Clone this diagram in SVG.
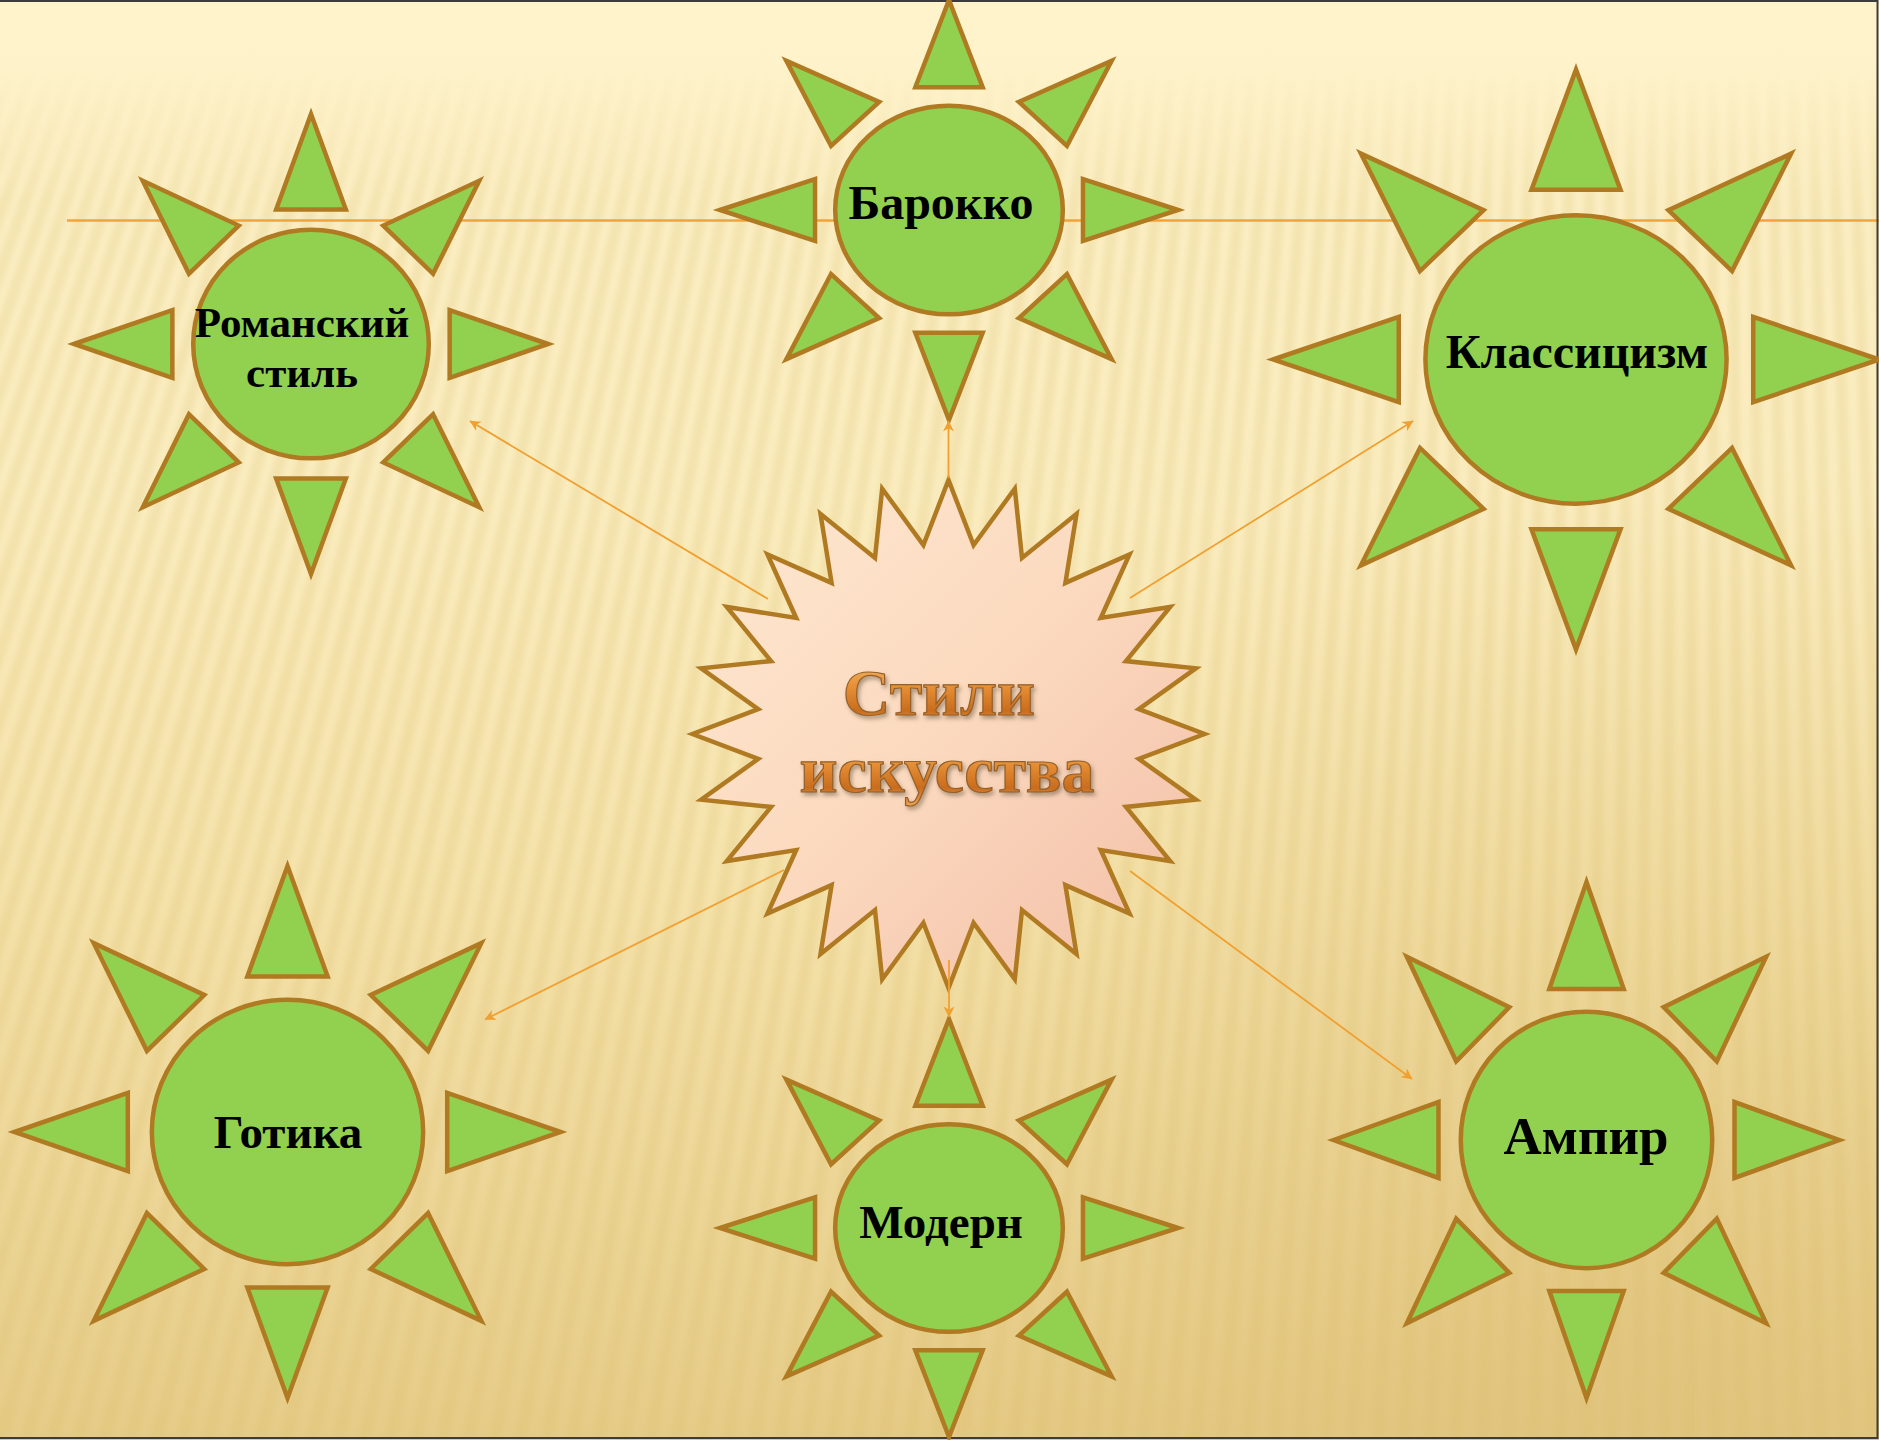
<svg xmlns="http://www.w3.org/2000/svg" xmlns:xlink="http://www.w3.org/1999/xlink" width="1879" height="1440" viewBox="0 0 1879 1440">
<style>
.ray{fill:#92D050;stroke:#B07A22;stroke-width:4.5;stroke-linejoin:miter;stroke-miterlimit:10;vector-effect:non-scaling-stroke}
.lbl{font-family:"Liberation Serif","Times New Roman",serif;font-weight:bold;fill:#000;text-anchor:middle}
.conn{stroke:#F0A030;stroke-width:1.8;fill:none;marker-end:url(#arr)}
.ttl{font-family:"Liberation Serif","Times New Roman",serif;font-weight:bold;font-size:66px;text-anchor:middle;fill:url(#gold);stroke:#94602A;stroke-width:1.2;filter:url(#shadow)}
</style>
<defs>
<linearGradient id="bg" x1="0" y1="0" x2="0" y2="1">
<stop offset="0" stop-color="#FEF3CB"/>
<stop offset="0.35" stop-color="#FCEFC3"/>
<stop offset="0.62" stop-color="#F6E4AD"/>
<stop offset="1" stop-color="#E6CC88"/>
</linearGradient>
<radialGradient id="dark" cx="1650" cy="1350" r="900" gradientUnits="userSpaceOnUse">
<stop offset="0" stop-color="#D8B86C" stop-opacity="0.4"/>
<stop offset="1" stop-color="#D8B86C" stop-opacity="0"/>
</radialGradient>
<linearGradient id="fadeG" x1="0" y1="0" x2="0" y2="1440" gradientUnits="userSpaceOnUse">
<stop offset="0.045" stop-color="#fff" stop-opacity="0"/>
<stop offset="0.14" stop-color="#fff" stop-opacity="1"/>
<stop offset="1" stop-color="#fff" stop-opacity="1"/>
</linearGradient>
<mask id="fade"><rect width="1879" height="1440" fill="url(#fadeG)"/></mask>
<filter id="soft" x="-5%" y="-5%" width="110%" height="110%"><feGaussianBlur stdDeviation="4"/></filter>
<linearGradient id="peach" x1="0" y1="0" x2="1" y2="1">
<stop offset="0" stop-color="#FEE8D2"/>
<stop offset="0.5" stop-color="#FBD9BE"/>
<stop offset="1" stop-color="#F2BCA6"/>
</linearGradient>
<linearGradient id="gold" x1="0" y1="0" x2="0" y2="1">
<stop offset="0" stop-color="#F8BD6E"/>
<stop offset="0.45" stop-color="#E48C33"/>
<stop offset="0.75" stop-color="#C96C1E"/>
<stop offset="1" stop-color="#EBA255"/>
</linearGradient>
<filter id="shadow" x="-10%" y="-20%" width="120%" height="150%">
<feDropShadow dx="2" dy="3" stdDeviation="2" flood-color="#6B5A40" flood-opacity="0.55"/>
</filter>
<marker id="arr" viewBox="0 0 10 10" refX="9.5" refY="5" markerWidth="13" markerHeight="11" markerUnits="userSpaceOnUse" orient="auto">
<path d="M0,0 L10,5 L0,10 L3,5 z" fill="#F0A030"/>
</marker>
<g id="sun">
<polygon class="ray" points="0,-1 0.147,-0.585 -0.147,-0.585"/>
<polygon class="ray" points="0,1 0.147,0.585 -0.147,0.585"/>
<polygon class="ray" points="-1,0 -0.585,-0.147 -0.585,0.147"/>
<polygon class="ray" points="1,0 0.585,-0.147 0.585,0.147"/>
<polygon class="ray" points="-0.71,-0.71 -0.305,-0.515 -0.515,-0.305"/>
<polygon class="ray" points="0.71,-0.71 0.305,-0.515 0.515,-0.305"/>
<polygon class="ray" points="-0.71,0.71 -0.305,0.515 -0.515,0.305"/>
<polygon class="ray" points="0.71,0.71 0.305,0.515 0.515,0.305"/>
<ellipse class="ray" cx="0" cy="0" rx="0.497" ry="0.497"/>
</g>
</defs>

<g id="background">
<rect width="1879" height="1440" fill="url(#bg)"/>
<rect width="1879" height="1440" fill="url(#dark)"/>
<g mask="url(#fade)">
<path filter="url(#soft)" stroke="#D9BA6C" stroke-opacity="0.32" stroke-width="10" fill="none" d="M-520 1440L-4.3 60M-494 1440L15.7 60M-468 1440L35.6 60M-442 1440L55.6 60M-416 1440L75.5 60M-390 1440L95.5 60M-364 1440L115.5 60M-338 1440L135.4 60M-312 1440L155.4 60M-286 1440L175.3 60M-260 1440L195.3 60M-234 1440L215.3 60M-208 1440L235.2 60M-182 1440L255.2 60M-156 1440L275.1 60M-130 1440L295.1 60M-104 1440L315.1 60M-78 1440L335 60M-52 1440L355 60M-26 1440L374.9 60M0 1440L394.9 60M26 1440L414.9 60M52 1440L434.8 60M78 1440L454.8 60M104 1440L474.7 60M130 1440L494.7 60M156 1440L514.7 60M182 1440L534.6 60M208 1440L554.6 60M234 1440L574.5 60M260 1440L594.5 60M286 1440L614.5 60M312 1440L634.4 60M338 1440L654.4 60M364 1440L674.3 60M390 1440L694.3 60M416 1440L714.3 60M442 1440L734.2 60M468 1440L754.2 60M494 1440L774.1 60M520 1440L794.1 60M546 1440L814.1 60M572 1440L834 60M598 1440L854 60M624 1440L873.9 60M650 1440L893.9 60M676 1440L913.9 60M702 1440L933.8 60M728 1440L953.8 60M754 1440L973.7 60M780 1440L993.7 60M806 1440L1013.7 60M832 1440L1033.6 60M858 1440L1053.6 60M884 1440L1073.5 60M910 1440L1093.5 60M936 1440L1113.5 60M962 1440L1133.4 60M988 1440L1153.4 60M1014 1440L1173.3 60M1040 1440L1193.3 60M1066 1440L1213.3 60M1092 1440L1233.2 60M1118 1440L1253.2 60M1144 1440L1273.1 60M1170 1440L1293.1 60M1196 1440L1313.1 60M1222 1440L1333 60M1248 1440L1353 60M1274 1440L1372.9 60M1300 1440L1392.9 60M1326 1440L1412.9 60M1352 1440L1432.8 60M1378 1440L1452.8 60M1404 1440L1472.7 60M1430 1440L1492.7 60M1456 1440L1512.7 60M1482 1440L1532.6 60M1508 1440L1552.6 60M1534 1440L1572.5 60M1560 1440L1592.5 60M1586 1440L1612.5 60M1612 1440L1632.4 60M1638 1440L1652.4 60M1664 1440L1672.3 60M1690 1440L1692.3 60M1716 1440L1712.3 60M1742 1440L1732.2 60M1768 1440L1752.2 60M1794 1440L1772.1 60M1820 1440L1792.1 60M1846 1440L1812.1 60M1872 1440L1832 60M1898 1440L1852 60M1924 1440L1871.9 60"/>
</g>
<line x1="67" y1="220.5" x2="1879" y2="220.5" stroke="#F2A33A" stroke-width="2.6"/>
<path d="M0 1H1877.5V1438H0" fill="none" stroke="#3C3C3C" stroke-width="2"/>
</g>

<g id="node-romanesque">
<use href="#sun" transform="translate(311,344) scale(237,230)"/>
<text class="lbl" font-size="43" x="302" y="337">Романский</text>
<text class="lbl" font-size="43" x="302" y="387">стиль</text>
</g>
<g id="node-baroque">
<use href="#sun" transform="translate(949,210) scale(229,210)"/>
<text class="lbl" font-size="48" x="941" y="219">Барокко</text>
</g>
<g id="node-classicism">
<use href="#sun" transform="translate(1576,359.5) scale(303,290)"/>
<text class="lbl" font-size="48" x="1577" y="368">Классицизм</text>
</g>
<g id="node-gothic">
<use href="#sun" transform="translate(287.5,1132) scale(273,266)"/>
<text class="lbl" font-size="47" x="288" y="1148">Готика</text>
</g>
<g id="node-modern">
<use href="#sun" transform="translate(949,1228) scale(229,209)"/>
<text class="lbl" font-size="47" x="941" y="1238">Модерн</text>
</g>
<g id="node-empire">
<use href="#sun" transform="translate(1586.5,1140) scale(253,258)"/>
<text class="lbl" font-size="53" x="1586" y="1154">Ампир</text>
</g>

<g id="node-center">
<polygon transform="translate(948.5,734)" fill="url(#peach)" stroke="#B07A22" stroke-width="4.5" stroke-linejoin="miter" points="0,-254 25.1,-188.9 66.3,-245.3 73.5,-176 128,-220 116.9,-151.1 181,-179.6 152.3,-116 221.7,-127 177.4,-72.9 247.3,-65.7 190.3,-24.9 256,0 190.3,24.9 247.3,65.7 177.4,72.9 221.7,127 152.3,116 181,179.6 116.9,151.1 128,220 73.5,176 66.3,245.3 25.1,188.9 0,254 -25.1,188.9 -66.3,245.3 -73.5,176 -128,220 -116.9,151.1 -181,179.6 -152.3,116 -221.7,127 -177.4,72.9 -247.3,65.7 -190.3,24.9 -256,0 -190.3,-24.9 -247.3,-65.7 -177.4,-72.9 -221.7,-127 -152.3,-116 -181,-179.6 -116.9,-151.1 -128,-220 -73.5,-176 -66.3,-245.3 -25.1,-188.9"/>
<text class="ttl" x="939" y="715">Стили</text>
<text class="ttl" x="947" y="792">искусства</text>
</g>

<g id="connectors">
<line class="conn" x1="768" y1="599" x2="470" y2="421"/>
<line class="conn" x1="948.5" y1="478" x2="948.5" y2="421"/>
<line class="conn" x1="1130" y1="598" x2="1413" y2="421"/>
<line class="conn" x1="784" y1="870" x2="485" y2="1019.5"/>
<line class="conn" x1="949" y1="960" x2="949" y2="1017"/>
<line class="conn" x1="1130" y1="871" x2="1412" y2="1079"/>
</g>
</svg>
